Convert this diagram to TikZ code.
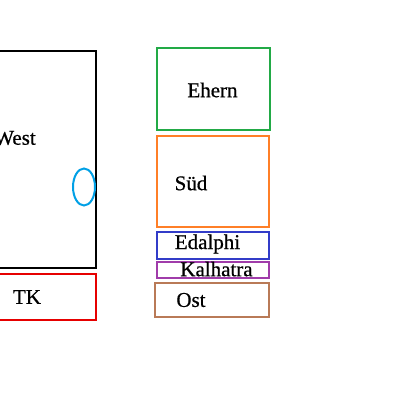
\documentclass[tikz,border=0pt]{standalone}
\usepackage{fontspec}
\setmainfont{Liberation Serif}[FakeBold=0.6]
\definecolor{cgreen}{RGB}{34,170,70}
\definecolor{corange}{RGB}{255,127,39}
\definecolor{cblue}{RGB}{50,60,200}
\definecolor{cpurple}{RGB}{160,60,170}
\definecolor{cbrown}{RGB}{185,122,87}
\definecolor{cred}{RGB}{230,0,0}
\definecolor{ccyan}{RGB}{0,160,230}
\tikzset{
  box/.style={draw=#1, line width=2pt, inner sep=0pt},
  lbl/.style={font=\fontsize{21}{22}\selectfont, inner sep=0pt, anchor=center}
}
\begin{document}
\begin{tikzpicture}[x=1pt,y=-1pt]
\clip (0,0) rectangle (400,400);
\fill[white] (0,0) rectangle (400,400);
% West
\draw[box=black] (-10,51) rectangle (96,268);
\node[inner sep=0pt] (west) at (15,138) {};
\node[lbl] at (west) {West};
\draw[ccyan, line width=2pt] (84,187) ellipse (11 and 18.5);
\node (ell) at (84,187) {};
% TK
\draw[box=cred] (-10,274) rectangle (96,320);
\node[lbl] (tk) at (27,297) {TK};
% right column
\node[box=cgreen, minimum width=113pt, minimum height=82pt] (ehern) at (213.5,89) {};
\node[lbl] at (212.5,90) {Ehern};
\node[box=corange, minimum width=112pt, minimum height=91pt] (sued) at (213,181.5) {};
\node[lbl] at (191,183) {Süd};
\node[box=cblue, minimum width=112pt, minimum height=27pt] (edalphi) at (213,245.5) {};
\node[lbl] at (207.5,244) {Edalphi};
\node[box=cpurple, minimum width=112pt, minimum height=16pt] (kal) at (213,270) {};
\node[lbl] at (216.5,269) {Kalhatra};
\node[box=cbrown, minimum width=114pt, minimum height=34pt] (ost) at (212,300) {};
\node[lbl] at (191,300) {Ost};
\end{tikzpicture}
\end{document}
